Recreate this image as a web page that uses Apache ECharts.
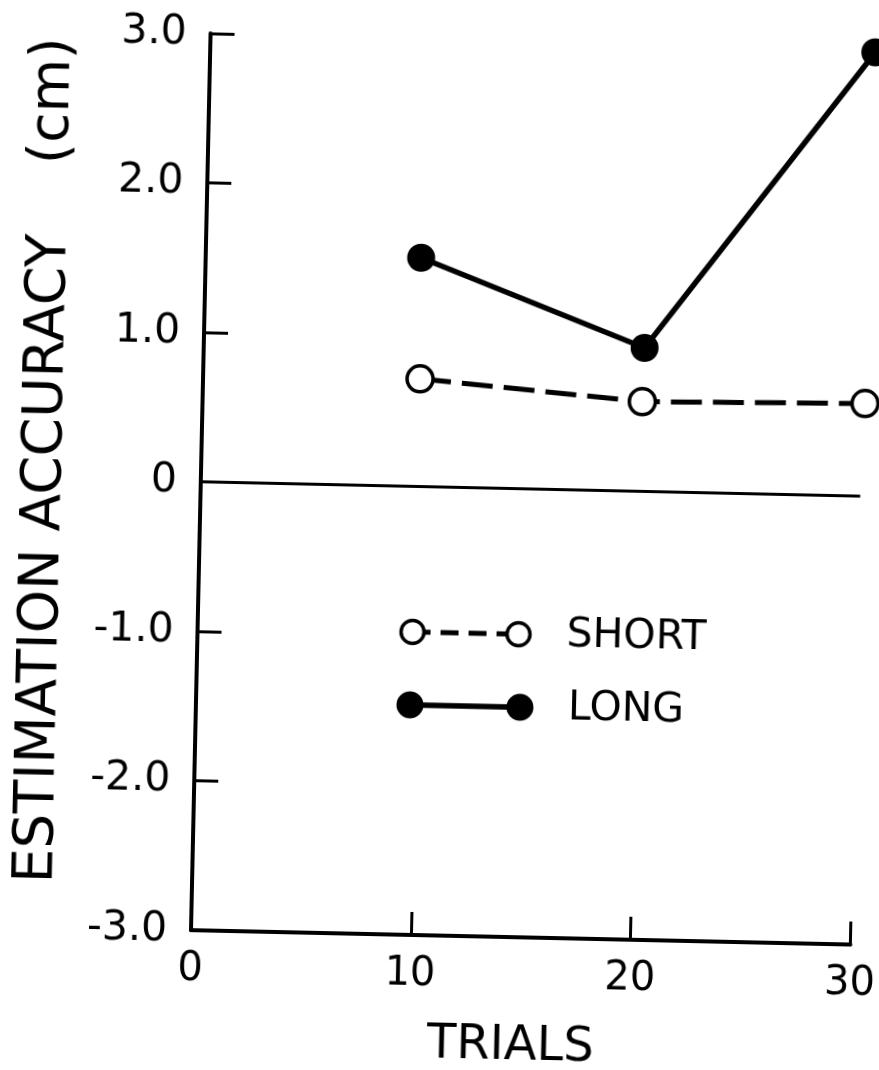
<!DOCTYPE html>
<html>
<head>
<meta charset="utf-8">
<script src="https://cdn.jsdelivr.net/npm/echarts@6/dist/echarts.min.js"></script>
<style>
html,body{margin:0;padding:0;background:#fff;}
#chart{width:879px;height:1070px;transform:rotate(1.25deg);transform-origin:184px 930px;}
</style>
</head>
<body>
<div id="chart"></div>
<script>
// Data
const shortTrials = [9.87, 20.0, 30.13];
const shortValues = [0.72, 0.60, 0.62];
const longTrials = [9.8, 20.05, 30.25];
const longValues = [1.53, 0.96, 2.97];
const xTicks = [0, 10, 20, 30];
const yTicks = [-3, -2, -1, 0, 1, 2, 3];

const FONT = 'DejaVu Sans';
const chart = echarts.init(document.getElementById('chart'), null, {renderer: 'canvas'});

const option = {
  backgroundColor: '#fff',
  animation: false,
  grid: {left: 184, top: 33, right: 24, bottom: 140, containLabel: false},
  xAxis: {
    type: 'value', min: xTicks[0], max: xTicks[xTicks.length - 1], interval: 10,
    name: 'TRIALS', nameLocation: 'middle', nameGap: 86,
    nameTextStyle: {fontFamily: FONT, fontSize: 48, color: '#000', padding: [0, 16, 0, 0]},
    axisLine: {show: true, onZero: false, lineStyle: {color: '#000', width: 4}},
    axisTick: {show: true, inside: true, length: 23, lineStyle: {color: '#000', width: 3}},
    axisLabel: {fontFamily: FONT, fontSize: 40, color: '#000', margin: 20},
    splitLine: {show: false}
  },
  yAxis: {
    type: 'value', min: yTicks[0], max: yTicks[yTicks.length - 1], interval: 1,
    name: 'ESTIMATION ACCURACY    (cm)', nameLocation: 'middle', nameGap: 128,
    nameTextStyle: {fontFamily: FONT, fontSize: 55, color: '#000', padding: [0, 0, 0, 36]},
    axisLine: {show: true, onZero: false, lineStyle: {color: '#000', width: 4}},
    axisTick: {show: true, inside: true, length: 24, lineStyle: {color: '#000', width: 3}},
    axisLabel: {fontFamily: FONT, fontSize: 41, color: '#000', margin: 24,
      formatter: v => v === 0 ? '0' : v.toFixed(1)},
    splitLine: {show: false}
  },
  series: [
    {
      name: 'SHORT', type: 'line', clip: false,
      data: shortTrials.map((t, i) => [t, shortValues[i]]),
      symbol: 'circle', symbolSize: 26,
      itemStyle: {color: '#fff', borderColor: '#000', borderWidth: 3.5},
      lineStyle: {color: '#000', width: 5, type: [31, 11]},
      z: 3,
      markLine: {
        silent: true, symbol: 'none', label: {show: false},
        lineStyle: {color: '#000', width: 3, type: 'solid'},
        data: [{yAxis: 0}]
      }
    },
    {
      name: 'LONG', type: 'line', clip: false,
      data: longTrials.map((t, i) => [t, longValues[i]]),
      symbol: 'circle', symbolSize: 28,
      itemStyle: {color: '#000', borderColor: '#000', borderWidth: 0},
      lineStyle: {color: '#000', width: 5.5, type: 'solid'},
      z: 4
    }
  ],
  graphic: [
    // SHORT legend sample
    {type: 'line', shape: {x1: 406, y1: 627, x2: 512, y2: 627}, style: {stroke: '#000', lineWidth: 5, lineDash: [18, 10]}, z: 10},
    {type: 'circle', shape: {cx: 406, cy: 627, r: 11.5}, style: {fill: '#fff', stroke: '#000', lineWidth: 3.5}, z: 11},
    {type: 'circle', shape: {cx: 512, cy: 627, r: 11.5}, style: {fill: '#fff', stroke: '#000', lineWidth: 3.5}, z: 11},
    {type: 'text', style: {text: 'SHORT', x: 560, y: 627, verticalAlign: 'middle', font: '41px "DejaVu Sans"', fill: '#000'}, z: 11},
    // LONG legend sample
    {type: 'line', shape: {x1: 405, y1: 700, x2: 515, y2: 700}, style: {stroke: '#000', lineWidth: 5.5}, z: 10},
    {type: 'circle', shape: {cx: 405, cy: 700, r: 13.5}, style: {fill: '#000'}, z: 11},
    {type: 'circle', shape: {cx: 515, cy: 700, r: 13.5}, style: {fill: '#000'}, z: 11},
    {type: 'text', style: {text: 'LONG', x: 563, y: 700, verticalAlign: 'middle', font: '41px "DejaVu Sans"', fill: '#000'}, z: 11}
  ]
};
chart.setOption(option);
</script>
</body>
</html>
